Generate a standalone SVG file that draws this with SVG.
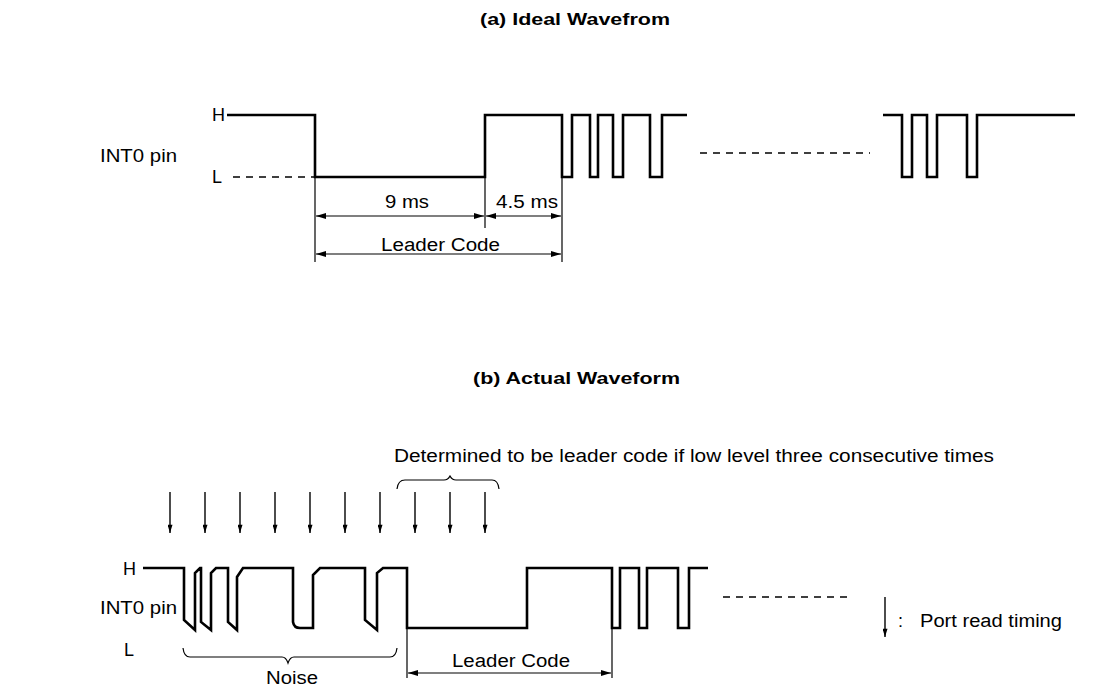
<svg xmlns="http://www.w3.org/2000/svg" width="1112" height="689" viewBox="0 0 1112 689">
<style>
.t{font-family:"Liberation Sans",Arial,sans-serif;font-size:18px;fill:#000}
.b{font-weight:bold;font-size:17px}
.w{fill:none;stroke:#000;stroke-width:2.6;stroke-linejoin:miter}
.d{fill:none;stroke:#000;stroke-width:1.6;stroke-dasharray:7 6}
.thin{fill:none;stroke:#000;stroke-width:1.2}
.dim{fill:none;stroke:#000;stroke-width:1.2;marker-start:url(#ah);marker-end:url(#ah)}
.rd{fill:none;stroke:#000;stroke-width:1.4;marker-end:url(#dn)}
</style>
<defs>
<marker id="ah" viewBox="0 0 10 6" refX="10" refY="3" markerWidth="10" markerHeight="6" markerUnits="userSpaceOnUse" orient="auto-start-reverse"><path d="M0,0 L10,3 L0,6 z" fill="#000"/></marker>
<marker id="dn" viewBox="0 0 10 6" refX="10" refY="3" markerWidth="11" markerHeight="5" markerUnits="userSpaceOnUse" orient="auto"><path d="M0,0 L10,3 L0,6 z" fill="#000"/></marker>
</defs>
<rect width="1112" height="689" fill="#fff"/>

<g id="titles">
<text class="t b" x="480" y="25" textLength="190" lengthAdjust="spacingAndGlyphs">(a)  Ideal Wavefrom</text>
<text class="t b" x="473" y="384" textLength="207" lengthAdjust="spacingAndGlyphs">(b)  Actual Waveform</text>
</g>

<g id="wave-a">
<text class="t" x="177" y="162" text-anchor="end" textLength="77" lengthAdjust="spacingAndGlyphs">INT0 pin</text>
<text class="t" x="212" y="121">H</text>
<text class="t" x="212" y="183">L</text>
<line class="d" x1="233" y1="177" x2="315" y2="177"/>
<path class="w" d="M227,115 H315 V177 H485 V115 H562 V177 H572 V115 H590 V177 H598 V115 H613 V177 H623 V115 H650 V177 H662 V115 H687"/>
<line class="d" x1="700" y1="153" x2="870" y2="153"/>
<path class="w" d="M883,115 H902 V177 H912 V115 H927 V177 H937 V115 H967 V177 H977 V115 H1075"/>
</g>

<g id="dims-a">
<line class="thin" x1="315" y1="177" x2="315" y2="262"/>
<line class="thin" x1="485" y1="177" x2="485" y2="228"/>
<line class="thin" x1="562" y1="177" x2="562" y2="262"/>
<line class="dim" x1="316" y1="216" x2="484" y2="216"/>
<line class="dim" x1="486" y1="216" x2="561" y2="216"/>
<line class="dim" x1="316" y1="254" x2="561" y2="254"/>
<text class="t" x="385" y="208" textLength="44" lengthAdjust="spacingAndGlyphs">9 ms</text>
<text class="t" x="496" y="208" textLength="62" lengthAdjust="spacingAndGlyphs">4.5 ms</text>
<text class="t" x="381" y="251" textLength="119" lengthAdjust="spacingAndGlyphs">Leader Code</text>
</g>

<g id="note-b">
<text class="t" x="394" y="462" textLength="600" lengthAdjust="spacingAndGlyphs">Determined to be leader code if low level three consecutive times</text>
<path class="thin" d="M397,489 Q398,480 405,480 H444 Q448,480 450,476 Q452,480 456,480 H492 Q498,480 499,489"/>
</g>

<g id="read-timing">
<line class="rd" x1="170" y1="492" x2="170" y2="533"/>
<line class="rd" x1="205" y1="492" x2="205" y2="533"/>
<line class="rd" x1="240" y1="492" x2="240" y2="533"/>
<line class="rd" x1="275" y1="492" x2="275" y2="533"/>
<line class="rd" x1="310" y1="492" x2="310" y2="533"/>
<line class="rd" x1="345" y1="492" x2="345" y2="533"/>
<line class="rd" x1="380" y1="492" x2="380" y2="533"/>
<line class="rd" x1="415" y1="492" x2="415" y2="533"/>
<line class="rd" x1="450" y1="492" x2="450" y2="533"/>
<line class="rd" x1="485" y1="492" x2="485" y2="533"/>
</g>

<g id="wave-b">
<text class="t" x="177" y="614" text-anchor="end" textLength="77" lengthAdjust="spacingAndGlyphs">INT0 pin</text>
<text class="t" x="123" y="575">H</text>
<text class="t" x="124" y="656">L</text>
<path class="w" d="M143,568 H184 V620 L195,630 V573 L200,568 H201 V622 L211,630 V573 L216,568 H228 V622 L237,630 V577 L243,568 H293 V622 Q294,628 300,628 H313 V575 L320,568 H365 V620 L377,630 V573 L383,568 H407 V628 H527 V568 H612 V628 H620 V568 H639 V628 H647 V568 H678 V628 H689 V568 H708"/>
<line class="d" x1="723" y1="597" x2="848" y2="597"/>
</g>

<g id="noise">
<path class="thin" d="M183,648 Q184,657 190,657 H282 Q286,657 288,663 Q290,657 294,657 H390 Q396,657 397,648"/>
<text class="t" x="266" y="684" textLength="52" lengthAdjust="spacingAndGlyphs">Noise</text>
</g>

<g id="dims-b">
<line class="thin" x1="407" y1="628" x2="407" y2="678"/>
<line class="thin" x1="612" y1="628" x2="612" y2="678"/>
<line class="dim" x1="408" y1="673" x2="611" y2="673"/>
<text class="t" x="452" y="667" textLength="118" lengthAdjust="spacingAndGlyphs">Leader Code</text>
</g>

<g id="legend">
<line class="rd" x1="885" y1="597" x2="885" y2="637"/>
<text class="t" x="898" y="627">:</text>
<text class="t" x="920" y="627" textLength="142" lengthAdjust="spacingAndGlyphs">Port read timing</text>
</g>
</svg>
